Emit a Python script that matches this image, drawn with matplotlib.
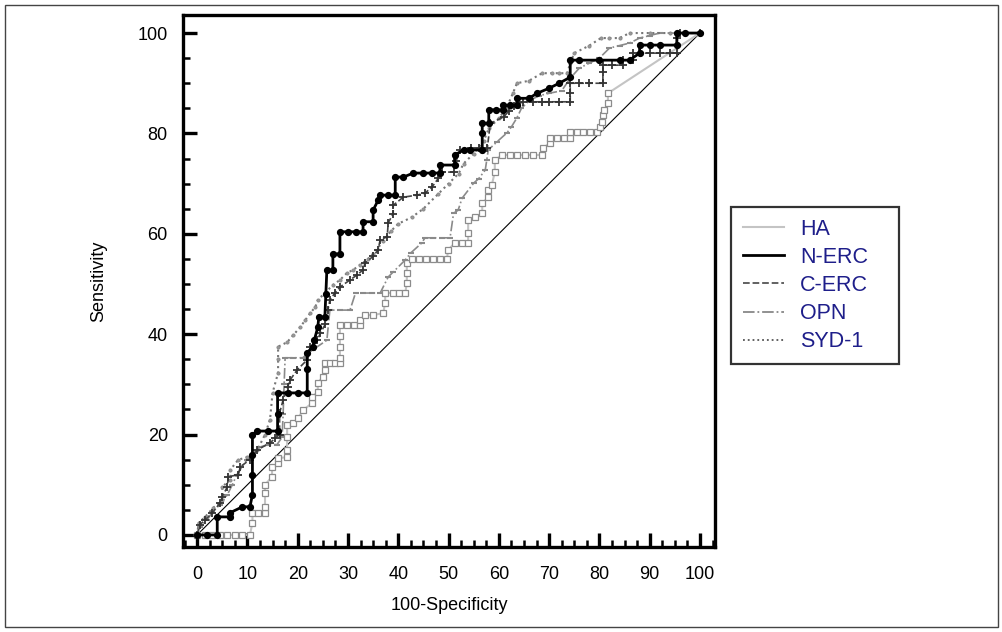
import matplotlib
matplotlib.use('Agg')
import matplotlib.pyplot as plt
from matplotlib.lines import Line2D
from matplotlib.patches import Rectangle
from matplotlib.ticker import MultipleLocator

plt.rcParams['font.family'] = ['Liberation Sans', 'DejaVu Sans']

# ROC points (100-Specificity, Sensitivity)
ha = [(0, 0), (1.5, 0), (3, 0), (4.6, 0), (6, 0), (7.5, 0), (9, 0), (10.5, 0), (11, 2.4), (11, 4.4),
      (12.2, 4.4), (13.5, 4.4), (13.5, 5.6), (13.5, 8.4), (13.5, 10), (14.9, 11.6), (14.9, 13.5),
      (16.1, 14.3), (16.1, 15.3), (17.9, 15.5), (17.9, 17), (17.9, 19.5), (17.9, 22), (19.1, 22.3),
      (20.1, 23.3), (21.1, 24.9), (22.9, 26.3), (22.9, 27.5), (24, 28.5), (24, 30.3), (25, 31.5),
      (25.4, 32.9), (25.4, 34.3), (26.4, 34.3), (27.4, 34.3), (28.4, 34.3), (28.4, 35.3), (28.4, 37.5),
      (28.4, 39.7), (28.4, 41.8), (29.8, 41.8), (31.1, 41.8), (32.4, 41.8), (32.4, 42.8), (33.4, 43.8),
      (35, 43.8), (37, 44.2), (37.4, 46.2), (37.4, 48.2), (39, 48.2), (40.2, 48.2), (41.4, 48.2),
      (41.7, 50.2), (41.7, 52.2), (41.7, 54.2), (42.7, 55), (44.1, 55), (45.5, 55), (46.9, 55),
      (48.3, 55), (49.7, 55), (49.9, 56.8), (51.3, 58.2), (52.7, 58.2), (53.9, 58.2), (53.9, 60.2),
      (53.9, 62.7), (55.3, 63.3), (56.7, 64.1), (56.7, 66.1), (57.9, 67.3), (57.9, 68.7), (58.6, 69.7),
      (59.2, 72.3), (59.2, 74.7), (60.7, 75.7), (62.2, 75.7), (63.7, 75.7), (65.2, 75.7), (66.7, 75.7),
      (68.6, 75.7), (68.8, 77.1), (70.2, 78.1), (70.2, 79.1), (71.6, 79.1), (72.9, 79.1), (74.2, 79.1),
      (74.2, 80.3), (75.5, 80.3), (76.8, 80.3), (78.1, 80.3), (79.5, 80.3), (80.2, 81.3), (80.5, 82.3),
      (80.7, 83.7), (81, 84.7), (81.7, 86), (81.7, 88), (100, 100)]

n_erc = [(0, 0), (2, 0), (4, 0), (4, 3.6), (6.5, 3.6), (6.5, 4.4), (9, 5.6), (10.5, 5.6), (11, 8),
         (11, 12), (11, 16), (11, 20), (12, 20.7), (14, 20.7), (16, 20.7), (16, 24), (16, 28.3),
         (18, 28.3), (20, 28.3), (21.9, 28.3), (21.9, 33), (21.9, 36.3), (23, 37.5), (23.3, 38.8),
         (24, 41.4), (24.2, 43.4), (25.4, 43.4), (25.6, 48), (25.8, 52.8), (27, 52.8), (27, 56),
         (28.4, 56), (28.4, 60.4), (30, 60.4), (31.5, 60.4), (33, 60.4), (33, 62.4), (35, 62.4),
         (35, 64.7), (36, 66.7), (36.4, 67.7), (38, 67.7), (39.4, 67.7), (39.4, 71.3), (41, 71.3),
         (43, 72.1), (45, 72.1), (46.7, 72.1), (48.3, 72.1), (48.3, 73.7), (51.2, 73.7), (51.2, 75.7),
         (53, 76.7), (54.3, 76.7), (56.7, 76.7), (56.7, 80), (56.7, 82), (58, 82), (58, 84.7),
         (59.5, 84.7), (60.8, 84.7), (60.8, 85.6), (62.2, 85.6), (63.6, 85.6), (63.6, 87), (66, 87),
         (67.6, 88), (70, 89), (72, 90), (74.2, 91.2), (74.2, 94.6), (76, 94.6), (80, 94.6),
         (84, 94.6), (86, 94.6), (88, 96), (88, 97.6), (90, 97.6), (92, 97.6), (95.4, 97.6),
         (95.4, 100), (97, 100), (100, 100)]

c_erc = [(0, 0), (0.5, 2), (1.6, 3), (3, 4.4), (4.6, 6.4), (5, 7.6), (6, 9.6), (6.2, 11.6), (8.2, 12),
         (8.6, 13.6), (10.5, 15), (12, 17), (14.5, 18.3), (15.5, 19.3), (16.4, 20), (16.4, 24.3),
         (17.1, 26.9), (18, 29.5), (18.5, 30.9), (19.9, 32.9), (21.9, 34.9), (22.5, 37.5), (23.9, 38.8),
         (24.5, 40.2), (25.5, 42), (26, 44.8), (26.4, 46.8), (27.4, 48.2), (28.4, 49.4), (30.4, 50.8),
         (31.8, 51.8), (33, 52.8), (33.4, 54.2), (35, 55.5), (36, 56.8), (36.4, 58.8), (37.8, 59.4),
         (38, 62.2), (39, 64), (39, 65.7), (41, 67.3), (43.7, 67.7), (45.3, 68.1), (46.7, 69.3),
         (48, 71.1), (48.7, 72.3), (51, 72.3), (51.5, 74.5), (52.3, 76.7), (54.5, 77), (56, 77),
         (57.7, 77), (58.3, 82), (61, 83.3), (62, 84.5), (63, 85.5), (64.8, 86.3), (66.8, 86.3),
         (68.5, 86.3), (70, 86.3), (72, 86.3), (74.2, 86.3), (74.2, 88), (74.2, 90), (76, 90), (78, 90),
         (80.7, 90), (80.7, 92.2), (80.7, 93.6), (82.5, 93.6), (84.7, 93.6), (84.7, 94.6), (86.7, 94.6),
         (86.7, 96), (88, 96), (90, 96), (92, 96), (94, 96), (95.5, 96), (95.5, 99), (96, 100), (100, 100)]

opn = [(0, 0), (0.5, 1.5), (2, 3), (3, 4.5), (4.5, 6), (6, 8), (7, 10), (7.9, 12), (9.9, 15), (12.5, 17.5),
       (14, 18), (15.9, 18), (16.9, 19.5), (17.1, 24), (17.3, 30), (17.5, 35.3), (19, 35.3), (21, 35.3),
       (23, 36.9), (25.8, 38.8), (26.4, 44.8), (28.4, 44.8), (30.4, 44.8), (31.5, 48.2), (33, 48.2),
       (34.8, 48.2), (36.4, 48.2), (38, 51.4), (39, 52.4), (41.4, 54.8), (42.5, 56.2), (44.7, 58.2),
       (45.3, 59.2), (47, 59.2), (48.7, 59.2), (50.3, 59.2), (51, 64.1), (51.9, 64.7), (52.7, 67.1),
       (55, 70.1), (56, 71), (57.3, 72.7), (57.6, 74.7), (57.9, 76.7), (59.6, 78.3), (61.6, 80.1),
       (62.5, 81.3), (63.6, 83.1), (64.5, 85), (66, 86.5), (68, 87.5), (70, 88), (72.5, 88.5),
       (74.2, 91), (76, 93), (78, 94), (80, 95), (82, 97), (84, 97.5), (86, 98), (88, 99), (90, 99.5),
       (92, 100), (100, 100)]

syd1 = [(0, 0), (0.3, 2.4), (1.6, 3.6), (3.2, 5.4), (5, 7), (5, 9.6), (6.6, 11), (6.6, 13), (8.2, 15),
        (10, 15.5), (12, 17), (13.5, 20), (14.5, 23), (15, 28.3), (16.1, 32.3), (16.1, 35), (16.1, 37.5),
        (17.9, 38.4), (19.1, 39.8), (20.5, 41.4), (21.5, 42.8), (22.5, 44.2), (23.5, 45.4), (24, 46.8),
        (25.4, 48.2), (27, 49.8), (28.4, 50.8), (29.8, 52.2), (31, 52.8), (32.4, 53.8), (34, 55),
        (35, 56), (37, 58.5), (38.5, 60.5), (40, 62), (42.7, 63.3), (45, 65), (48, 68), (50, 70),
        (52, 72), (53, 74), (55, 76), (57, 78.5), (58, 81), (60, 83), (61.5, 85), (62.8, 88), (63.6, 90),
        (66, 90.5), (68.6, 92), (70.5, 92), (72, 92), (73.6, 92), (74.2, 94), (75, 96), (78, 97.5),
        (80.3, 99), (82, 99), (84, 99), (86, 100), (90, 100), (94, 100), (97, 100), (100, 100)]

labels = ['HA', 'N-ERC', 'C-ERC', 'OPN', 'SYD-1']
x_ticks = list(range(0, 101, 10))
y_ticks = list(range(0, 101, 20))

fig = plt.figure(figsize=(10.03, 6.32), dpi=100)
fig.patches.append(Rectangle((0.005, 0.008), 0.99, 0.984, transform=fig.transFigure,
                             fill=False, edgecolor='#444444', linewidth=1.0))
ax = fig.add_axes([0.1825, 0.1345, 0.5304, 0.8418])


def xy(pts):
    return [p[0] for p in pts], [p[1] for p in pts]


ax.plot([0, 100], [0, 100], color='black', lw=0.8, zorder=1)

x, y = xy(ha)
ax.plot(x, y, color='#c4c4c4', lw=1.5, marker='s', ms=3.8, mfc='white', mec='#8c8c8c',
        mew=0.9, markevery=slice(0, len(x) - 1), zorder=2)

x, y = xy(opn)
ax.plot(x, y, color='#8a8a8a', lw=1.2, ls='-.', marker='_', ms=4, mec='#8a8a8a', mew=1.5, zorder=3)

x, y = xy(syd1)
ax.plot(x, y, color='#777777', lw=1.5, ls=':', marker='o', ms=2.3, mfc='#999999', mec='#888888',
        mew=0.6, zorder=3)

x, y = xy(c_erc)
ax.plot(x, y, color='#444444', lw=1.2, ls='--', marker='+', ms=6, mec='#333333', mew=1.3, zorder=4)

x, y = xy(n_erc)
ax.plot(x, y, color='black', lw=2.0, marker='o', ms=4.2, mfc='black', mec='black', zorder=5)

ax.set_xlim(-2.8, 103)
ax.set_ylim(-2.4, 103.6)
ax.set_xticks(x_ticks)
ax.set_yticks(y_ticks)
ax.xaxis.set_minor_locator(MultipleLocator(2.5))
ax.yaxis.set_minor_locator(MultipleLocator(5))
ax.tick_params(which='major', direction='in', length=10, width=2.4, labelsize=13)
ax.tick_params(which='minor', direction='in', length=5, width=1.8)
ax.tick_params(axis='x', which='major', pad=14)
ax.tick_params(axis='y', which='major', pad=11)
for s in ax.spines.values():
    s.set_linewidth(2.4)

ax.set_xlabel('100-Specificity', fontsize=13, labelpad=10)
ax.set_ylabel('Sensitivity', fontsize=13, labelpad=22)

handles = [
    Line2D([], [], color='#c4c4c4', lw=1.5),
    Line2D([], [], color='black', lw=2.0),
    Line2D([], [], color='#555555', lw=1.3, ls='--'),
    Line2D([], [], color='#888888', lw=1.3, ls='-.'),
    Line2D([], [], color='#555555', lw=1.3, ls=':'),
]
leg = fig.legend(handles, labels, loc='upper left', bbox_to_anchor=(0.7288, 0.4272, 0.1675, 0.2453),
                 mode='expand', fontsize=15.5, frameon=True, fancybox=False, handlelength=1.9,
                 handletextpad=0.75, labelspacing=0.33, borderpad=0.55, borderaxespad=0)
leg.get_frame().set_edgecolor('black')
leg.get_frame().set_linewidth(1.6)
for t in leg.get_texts():
    t.set_color('#1e1e8a')

fig.savefig('out.png', dpi=100)
